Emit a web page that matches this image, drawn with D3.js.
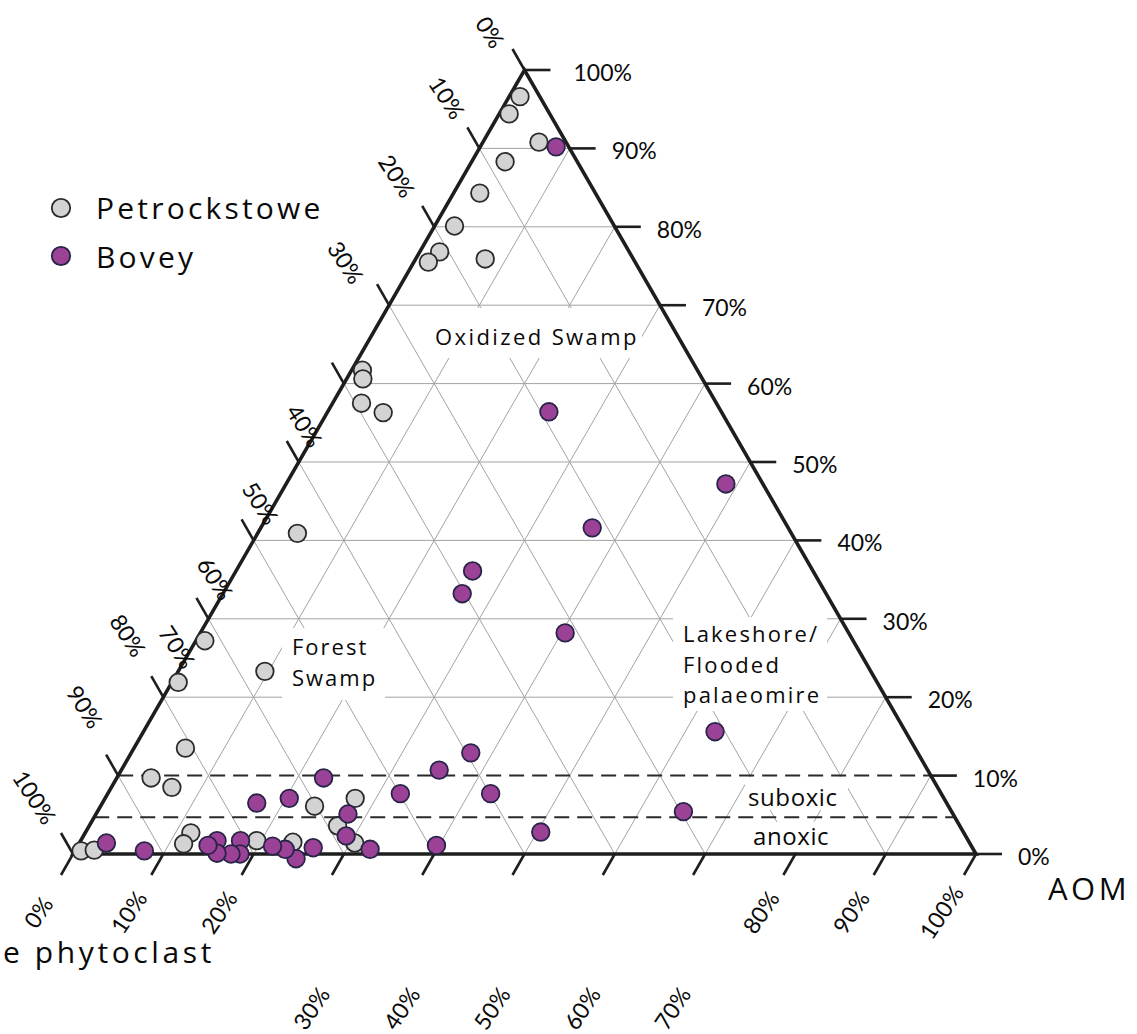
<!DOCTYPE html>
<html><head><meta charset="utf-8">
<script src="https://cdn.jsdelivr.net/npm/d3@7"></script>
<style>body{margin:0;background:#fff} svg{display:block}</style>
</head><body>
<svg id="c" width="1137" height="1034"></svg>
<script>
// ---- data (percent) ----
const seriesNames = ["Petrockstowe", "Bovey"];
// top-vertex component (right axis) and AOM (bottom-right vertex) for each sample
const petrockstoweTop = [96.6,94.4,90.8,88.3,84.3,80.1,76.8,75.5,75.9,61.7,60.6,57.5,56.3,40.9,27.2,23.3,21.9,13.5,9.7,8.5,6.1,7.1,2.7,1.3,1.7,1.5,3.6,1.4,0.4,0.5];
const petrockstoweAOM = [1.2,1.1,6.2,3.7,2.9,2.2,2.2,1.6,7.7,1.2,1.8,3.2,6.2,4.4,1.0,9.6,0.7,5.7,3.8,6.7,23.7,27.7,11.7,11.6,19.5,23.6,27.5,30.5,0.7,2.1];
const boveyTop = [90.2,56.4,47.2,41.6,36.1,33.2,28.2,15.6,12.9,10.7,9.7,7.7,7.7,6.5,7.1,5.1,2.3,5.4,2.8,1.1,0.6,0.8,-0.6,0.6,1.0,1.7,0,0,1.7,0.1,1.1,0.4,1.4];
const boveyAOM = [8.4,24.5,48.7,36.7,26.2,26.5,40.4,63.3,37.6,35.2,22.9,32.4,42.4,17.1,20.4,27.9,29.1,64.9,50.4,39.7,32.6,26.2,25.0,23.2,21.6,17.7,18.5,17.5,15.1,15.9,14.4,7.7,3.0];
const tickValues = [0,10,20,30,40,50,60,70,80,90,100];
const tickLabels = ["0%","10%","20%","30%","40%","50%","60%","70%","80%","90%","100%"];
const boundaryLevels = [10, 4.7]; // suboxic / anoxic dashed boundaries (top component %)
const regionLabels = [["Oxidized Swamp"],["Forest","Swamp"],["Lakeshore/","Flooded","palaeomire"]];
const zoneLabels = ["suboxic","anoxic"];
const axisTitles = ["AOM","e phytoclast"];

// ---- layout ----
const svg = d3.select("#c");
const xs = d3.scaleLinear().domain([0,100]).range([73,976]);
const ys = d3.scaleLinear().domain([0,100]).range([854,70]);
const P = (r,t) => [xs(r + t/2), ys(t)];
const line = d3.line();
const GRID = "#a3a3a3", DARK = "#1e1e1e";

// grid
const gridG = svg.append("g");
d3.range(10,100,10).forEach(k => {
  const segs = [[P(k,0),P(k,100-k)], [P(100-k,0),P(0,100-k)]];
  if (k !== 10) segs.push([P(0,k),P(100-k,k)]);
  segs.forEach(s => gridG.append("path").attr("d", line(s)).attr("stroke", GRID).attr("stroke-width",1).attr("fill","none"));
});

// white masks behind labels
const masks = [[430,308,212,50],[282,628,103,72],[673,617,154,94],[745,777,103,33],[750,822,90,30]];
svg.append("g").selectAll("rect").data(masks).join("rect")
  .attr("x",d=>d[0]).attr("y",d=>d[1]).attr("width",d=>d[2]).attr("height",d=>d[3]).attr("fill","#fff");

// dashed boundaries
svg.append("g").selectAll("path").data(boundaryLevels).join("path")
  .attr("d", t => line([P(0,t), P(100-t,t)]))
  .attr("stroke","#2a2a2a").attr("stroke-width",2).attr("stroke-dasharray","15,8").attr("fill","none");

// triangle
svg.append("path").attr("d", line([P(0,0),P(100,0),P(0,100)]) + "Z")
  .attr("fill","none").attr("stroke",DARK).attr("stroke-width",3.6).attr("stroke-linejoin","miter");

// ticks
const tg = svg.append("g").attr("stroke",DARK).attr("stroke-width",2.6);
tickValues.forEach(v => {
  const pr = P(100-v, v); tg.append("path").attr("d", line([pr,[pr[0]+26,pr[1]]]));
  const pl = P(0, v);     tg.append("path").attr("d", line([pl,[pl[0]-12,pl[1]-21]]));
  const pb = P(v, 0);     tg.append("path").attr("d", line([pb,[pb[0]-12,pb[1]+21]]));
});

// tick labels
const tickFont = "Lato, 'Open Sans', sans-serif";
const lab = svg.append("g").attr("font-family", tickFont).attr("font-size", 23).attr("fill","#0a0a0a");
tickValues.forEach((v,i) => {
  const pr = P(100-v, v);
  lab.append("text").attr("x", pr[0] + (v===100 ? 49 : 42)).attr("y", pr[1] + 2)
    .attr("dominant-baseline","central").text(tickLabels[i]);
});
// left labels (0% at apex -> 100% at bottom-left), nudges as drawn in the reference
const leftNudge = [[-34,-38],[-32,-51],[-37,-51],[-43,-43],[-39,42],[-38,41],[-38,38],[-31,28],[-35,-62],[-33,-69],[-38,-57]];
tickValues.forEach((v,i) => {
  const p = P(0, 100 - v);
  const x = p[0] + leftNudge[i][0], y = p[1] + leftNudge[i][1];
  lab.append("text").attr("transform", `translate(${x},${y}) rotate(57)`)
    .attr("text-anchor","middle").attr("dominant-baseline","central").text(tickLabels[i]);
});
// bottom labels
const bottomDrop = [0,0,0,1,1,1,1,1,0,0,0];
tickValues.forEach((v,i) => {
  const p = P(v, 0);
  const x = p[0] - 33 - (bottomDrop[i] ? 0 : 2), y = bottomDrop[i] ? 1008 : 912;
  lab.append("text").attr("transform", `translate(${x},${y}) rotate(-56)`)
    .attr("text-anchor","middle").attr("dominant-baseline","central").text(tickLabels[i]);
});

// axis titles
const wordFont = "'Open Sans', sans-serif";
svg.append("text").attr("x",1048).attr("y",900).attr("font-family",wordFont).attr("font-size",31)
  .attr("letter-spacing",3.5).attr("fill","#0a0a0a").text(axisTitles[0]);
svg.append("text").attr("x",3).attr("y",963).attr("font-family",wordFont).attr("font-size",30)
  .attr("letter-spacing",3.6).attr("fill","#0a0a0a").text(axisTitles[1]);

// region labels
const regionPos = [[435,345,22,2.4],[292,655,22,2.0],[683,642,22,2.2]];
regionLabels.forEach((lines,i) => {
  const [x,y,fs,ls] = regionPos[i];
  const t = svg.append("text").attr("font-family",wordFont).attr("font-size",fs).attr("letter-spacing",ls).attr("fill","#0a0a0a");
  lines.forEach((s,j) => t.append("tspan").attr("x",x).attr("y",y + j*30.5).text(s));
});
const zonePos = [[748,806],[753,845]];
zoneLabels.forEach((s,i) => svg.append("text").attr("x",zonePos[i][0]).attr("y",zonePos[i][1])
  .attr("font-family",wordFont).attr("font-size",24).attr("letter-spacing",0.6).attr("fill","#0a0a0a").text(s));

// points
const styles = [{fill:"#d3d3d3", stroke:"#2b2b2b"}, {fill:"#9b4297", stroke:"#272448"}];
const series = [
  d3.zip(petrockstoweAOM, petrockstoweTop),
  d3.zip(boveyAOM, boveyTop)
];
series.forEach((pts,si) => {
  svg.append("g").selectAll("circle").data(pts).join("circle")
    .attr("cx", d => P(d[0], d[1])[0]).attr("cy", d => P(d[0], d[1])[1]).attr("r", 8.8)
    .attr("fill", styles[si].fill).attr("stroke", styles[si].stroke).attr("stroke-width", 1.8);
});

// legend
const lg = svg.append("g");
seriesNames.forEach((n,i) => {
  lg.append("circle").attr("cx",61).attr("cy",208 + i*48).attr("r",9.2)
    .attr("fill",styles[i].fill).attr("stroke",styles[i].stroke).attr("stroke-width",1.8);
  lg.append("text").attr("x",96).attr("y",219 + i*49).attr("font-family",wordFont).attr("font-size",30)
    .attr("letter-spacing",3.2).attr("fill","#0a0a0a").text(n);
});
</script>
</body></html>
